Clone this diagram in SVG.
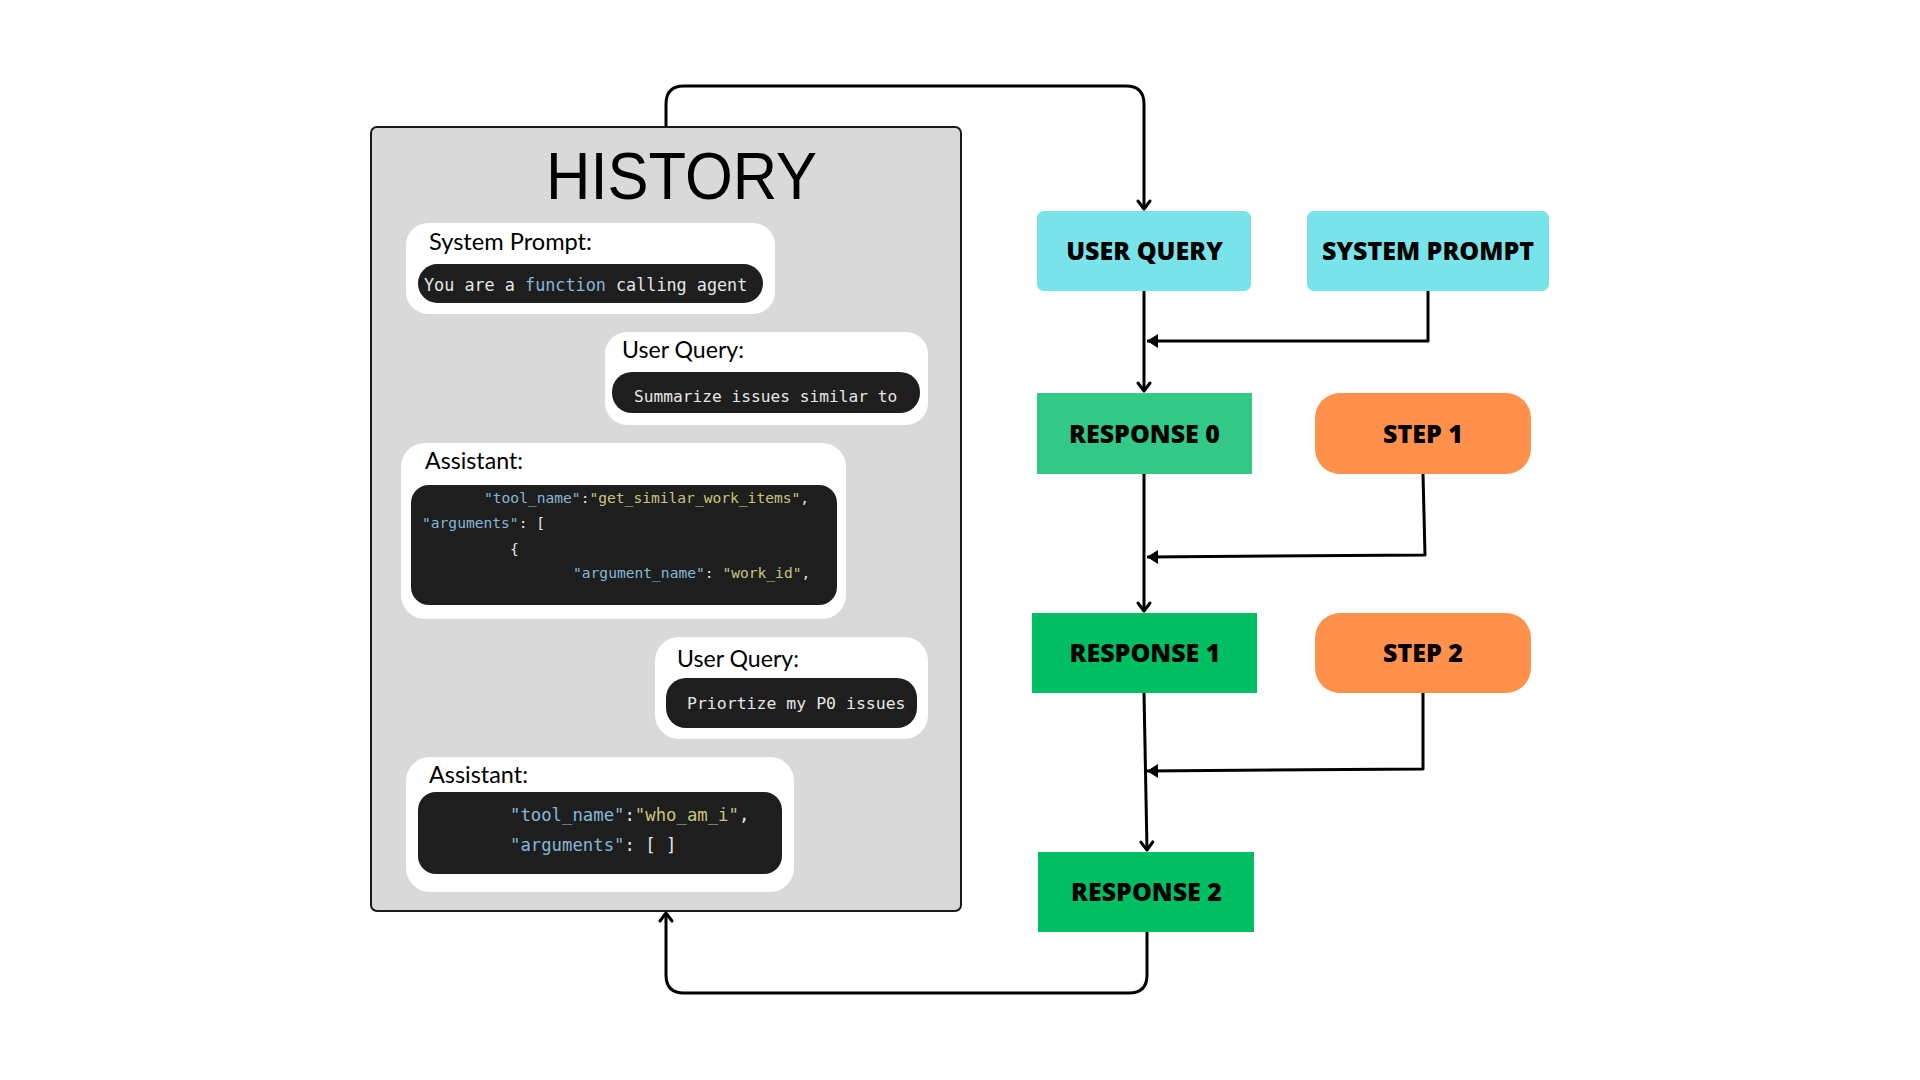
<svg xmlns="http://www.w3.org/2000/svg" width="1920" height="1080" viewBox="0 0 1920 1080">
<defs>
<style>
.hist{fill:#d9d9d9;stroke:#1a1a1a;stroke-width:2}
.bubble{fill:#ffffff}
.code{fill:#1e1e1e}
.lbl{font-family:Lato,"Open Sans",sans-serif;font-size:23px;fill:#000}
.mono{font-family:"DejaVu Sans Mono","Liberation Mono",monospace;fill:#e6e6e6}
.k{fill:#86b8d8}
.v{fill:#c8c67c}
.node{font-family:"Open Sans","Noto Sans",sans-serif;font-weight:800;font-size:25px;fill:#000;text-anchor:middle}
.cyan{fill:#78e4e9}
.g0{fill:#31c985}
.g1{fill:#00bf63}
.org{fill:#ff914d}
.ln{fill:none;stroke:#000;stroke-width:3;stroke-linejoin:round}
</style>
<marker id="chev" markerUnits="userSpaceOnUse" markerWidth="20" markerHeight="20" viewBox="-10 -10 20 20" refX="0" refY="0" orient="auto" overflow="visible">
<path d="M-8,-6 L0,0 L-8,6" fill="none" stroke="#000" stroke-width="3" stroke-linecap="round" stroke-linejoin="round"/>
</marker>
<marker id="tri" markerUnits="userSpaceOnUse" markerWidth="20" markerHeight="20" viewBox="-12 -10 20 20" refX="0" refY="0" orient="auto" overflow="visible">
<path d="M-11,-7 L0,0 L-11,7 Z" fill="#000"/>
</marker>
</defs>
<rect width="1920" height="1080" fill="#ffffff"/>

<g id="connectors">
<path class="ln" d="M666,127 V104 Q666,86 684,86 H1126 Q1144,86 1144,104 V209" marker-end="url(#chev)"/>
<path class="ln" d="M1147,932 V975 Q1147,993 1129,993 H684 Q666,993 666,975 V913" marker-end="url(#chev)"/>
<path class="ln" d="M1144,291 V391" marker-end="url(#chev)"/>
<path class="ln" d="M1428,291 V341 H1147" marker-end="url(#tri)"/>
<path class="ln" d="M1144,474 V611" marker-end="url(#chev)"/>
<path class="ln" d="M1423,474 L1425,555 L1147,557" marker-end="url(#tri)"/>
<path class="ln" d="M1144,693 L1147,850" marker-end="url(#chev)"/>
<path class="ln" d="M1423,693 V769 L1147,771" marker-end="url(#tri)"/>
</g>

<g id="history">
<rect class="hist" x="371" y="127" width="590" height="784" rx="6"/>
<text x="546" y="199" font-family="'Liberation Sans',Arial,sans-serif" font-size="66" fill="#000" textLength="271" lengthAdjust="spacingAndGlyphs">HISTORY</text>
</g>

<g id="system-prompt-msg">
<rect class="bubble" x="406" y="223" width="369" height="91" rx="22"/>
<text class="lbl" x="429" y="250" textLength="163" lengthAdjust="spacingAndGlyphs">System Prompt:</text>
<rect class="code" x="418" y="264" width="345" height="39" rx="19.5"/>
<text class="mono" x="424" y="291" font-size="16.8">You are a <tspan class="k">function</tspan> calling agent</text>
</g>

<g id="user-query-msg-1">
<rect class="bubble" x="605" y="332" width="323" height="93" rx="22"/>
<text class="lbl" x="622" y="358" textLength="122" lengthAdjust="spacingAndGlyphs">User Query:</text>
<rect class="code" x="612" y="372" width="308" height="41" rx="20"/>
<text class="mono" x="634" y="402" font-size="16.2">Summarize issues similar to</text>
</g>

<g id="assistant-msg-1">
<rect class="bubble" x="401" y="443" width="445" height="176" rx="24"/>
<text class="lbl" x="425" y="469" textLength="98" lengthAdjust="spacingAndGlyphs">Assistant:</text>
<rect class="code" x="411" y="485" width="426" height="120" rx="18"/>
<text class="mono" font-size="14.6">
<tspan x="484" y="503"><tspan class="k">"tool_name"</tspan>:<tspan class="v">"get_similar_work_items"</tspan>,</tspan>
<tspan x="422" y="528"><tspan class="k">"arguments"</tspan>: [</tspan>
<tspan x="510" y="554">{</tspan>
<tspan x="573" y="578"><tspan class="k">"argument_name"</tspan>: <tspan class="v">"work_id"</tspan>,</tspan>
</text>
</g>

<g id="user-query-msg-2">
<rect class="bubble" x="655" y="637" width="273" height="102" rx="24"/>
<text class="lbl" x="677" y="667" textLength="122" lengthAdjust="spacingAndGlyphs">User Query:</text>
<rect class="code" x="666" y="678" width="251" height="50" rx="20"/>
<text class="mono" x="687" y="709" font-size="16.5">Priortize my P0 issues</text>
</g>

<g id="assistant-msg-2">
<rect class="bubble" x="406" y="757" width="388" height="135" rx="24"/>
<text class="lbl" x="429" y="783" textLength="99" lengthAdjust="spacingAndGlyphs">Assistant:</text>
<rect class="code" x="418" y="792" width="364" height="82" rx="18"/>
<text class="mono" font-size="17.3">
<tspan x="510" y="821"><tspan class="k">"tool_name"</tspan>:<tspan class="v">"who_am_i"</tspan>,</tspan>
<tspan x="510" y="851"><tspan class="k">"arguments"</tspan>: [ ]</tspan>
</text>
</g>

<g id="user-query">
<rect class="cyan" x="1037" y="211" width="214" height="80" rx="7"/>
<text class="node" x="1144.5" y="260">USER QUERY</text>
</g>
<g id="system-prompt">
<rect class="cyan" x="1307" y="211" width="242" height="80" rx="7"/>
<text class="node" x="1428" y="260">SYSTEM PROMPT</text>
</g>
<g id="response-0">
<rect class="g0" x="1037" y="393" width="215" height="81"/>
<text class="node" x="1144.5" y="443">RESPONSE 0</text>
</g>
<g id="step-1">
<rect class="org" x="1315" y="393" width="216" height="81" rx="25"/>
<text class="node" x="1423" y="443">STEP 1</text>
</g>
<g id="response-1">
<rect class="g1" x="1032" y="613" width="225" height="80"/>
<text class="node" x="1145" y="662">RESPONSE 1</text>
</g>
<g id="step-2">
<rect class="org" x="1315" y="613" width="216" height="80" rx="25"/>
<text class="node" x="1423" y="662">STEP 2</text>
</g>
<g id="response-2">
<rect class="g1" x="1038" y="852" width="216" height="80"/>
<text class="node" x="1146.5" y="901">RESPONSE 2</text>
</g>
</svg>
